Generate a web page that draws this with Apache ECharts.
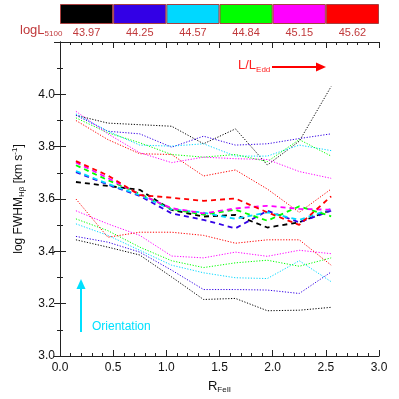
<!DOCTYPE html>
<html>
<head>
<meta charset="utf-8">
<script src="https://cdn.jsdelivr.net/npm/echarts@6/dist/echarts.min.js"></script>
<style>
  html, body { margin: 0; padding: 0; background: #fff; }
  #chart { width: 399px; height: 399px; }
</style>
</head>
<body>
<div id="chart"></div>
<script>
  // R_FeII bin centres
  var rfe = [0.15, 0.45, 0.75, 1.05, 1.35, 1.65, 1.95, 2.25, 2.55];

  // logL5100 bins (colour bar)
  var lumLabels = ['43.97', '44.25', '44.57', '44.84', '45.15', '45.62'];
  var lumColors = ['#000000', '#3300e6', '#00d8ff', '#00ff00', '#ff00ff', '#ff0000'];

  // upper dotted group
  var highBlack   = [3.920, 3.890, 3.884, 3.878, 3.811, 3.868, 3.730, 3.821, 4.030];
  var highBlue    = [3.920, 3.859, 3.849, 3.798, 3.840, 3.806, 3.811, 3.831, 3.849];
  var highCyan    = [3.925, 3.859, 3.806, 3.802, 3.811, 3.764, 3.764, 3.806, 3.785];
  var highGreen   = [3.910, 3.853, 3.815, 3.770, 3.760, 3.770, 3.743, 3.827, 3.764];
  var highMagenta = [3.935, 3.849, 3.777, 3.739, 3.760, 3.754, 3.751, 3.705, 3.679];
  var highRed     = [3.900, 3.827, 3.773, 3.770, 3.688, 3.711, 3.638, 3.549, 3.638];

  // middle dashed group
  var midBlack   = [3.665, 3.650, 3.635, 3.558, 3.533, 3.539, 3.491, 3.511, 3.558];
  var midBlue    = [3.703, 3.655, 3.612, 3.545, 3.520, 3.488, 3.555, 3.511, 3.555];
  var midCyan    = [3.707, 3.658, 3.615, 3.560, 3.548, 3.524, 3.549, 3.520, 3.562];
  var midGreen   = [3.729, 3.672, 3.620, 3.562, 3.540, 3.559, 3.517, 3.572, 3.534];
  var midMagenta = [3.740, 3.680, 3.618, 3.565, 3.545, 3.564, 3.574, 3.562, 3.559];
  var midRed     = [3.745, 3.690, 3.615, 3.605, 3.593, 3.602, 3.549, 3.501, 3.610];

  // lower dotted group
  var lowBlack   = [3.444, 3.416, 3.386, 3.302, 3.216, 3.220, 3.173, 3.175, 3.186];
  var lowBlue    = [3.457, 3.435, 3.397, 3.328, 3.254, 3.254, 3.252, 3.239, 3.321];
  var lowCyan    = [3.505, 3.461, 3.404, 3.347, 3.318, 3.299, 3.296, 3.364, 3.284];
  var lowGreen   = [3.524, 3.479, 3.416, 3.364, 3.338, 3.356, 3.366, 3.343, 3.375];
  var lowMagenta = [3.555, 3.505, 3.461, 3.382, 3.375, 3.397, 3.381, 3.404, 3.391];
  var lowRed     = [3.600, 3.454, 3.473, 3.473, 3.461, 3.431, 3.444, 3.444, 3.347];

  var highSets = [highBlack, highBlue, highCyan, highGreen, highMagenta, highRed];
  var midSets = [midBlack, midBlue, midCyan, midGreen, midMagenta, midRed];
  var lowSets = [lowBlack, lowBlue, lowCyan, lowGreen, lowMagenta, lowRed];

  var font = 'Liberation Sans';
  var labelRed = '#c0393b';

  function pairs(ys) {
    return rfe.map(function (x, i) { return [x, ys[i]]; });
  }

  function lineSeries(ys, color, dashed) {
    return {
      type: 'line',
      xAxisIndex: 0,
      yAxisIndex: 0,
      data: pairs(ys),
      showSymbol: false,
      silent: true,
      lineStyle: dashed
        ? { color: color, width: 1.8, type: [5, 4] }
        : { color: color, width: 1, type: [1.2, 1.6] }
    };
  }

  var series = [];
  for (var i = 0; i < 6; i++) {
    series.push(lineSeries(highSets[i], lumColors[i], false));
    series.push(lineSeries(lowSets[i], lumColors[i], false));
  }
  for (var j = 0; j < 6; j++) {
    series.push(lineSeries(midSets[j], lumColors[j], true));
  }
  // colour bar
  series.push({
    type: 'bar',
    xAxisIndex: 2,
    yAxisIndex: 2,
    barWidth: '100%',
    silent: true,
    data: lumColors.map(function (c) {
      return { value: 1, itemStyle: { color: c, borderColor: '#a84040', borderWidth: 1 } };
    })
  });

  var tickStyle = { inside: true, length: 6, lineStyle: { color: '#222' } };
  var minorStyle = { show: true, length: 3, lineStyle: { color: '#222' } };
  var lineAx = { show: true, lineStyle: { color: '#222', width: 1 } };

  var chart = echarts.init(document.getElementById('chart'));
  var option = {
    backgroundColor: '#fff',
    animation: false,
    textStyle: { fontFamily: font },
    grid: [
      { left: 60, right: 20, top: 42, bottom: 41 },
      { left: 60, right: 20, top: 4, height: 20 }
    ],
    xAxis: [
      {
        type: 'value', gridIndex: 0, min: 0, max: 3, interval: 0.5,
        axisLine: lineAx, axisTick: tickStyle,
        minorTick: Object.assign({ splitNumber: 5 }, minorStyle),
        splitLine: { show: false },
        axisLabel: { color: '#111', fontSize: 12, margin: 6, formatter: function (v) { return v.toFixed(1); } },
        name: '{a|R}{s|FeII}',
        nameLocation: 'middle',
        nameGap: 22,
        nameTextStyle: {
          rich: {
            a: { fontSize: 13, color: '#111', fontFamily: font },
            s: { fontSize: 8, color: '#111', fontFamily: font, padding: [8, 0, 0, 0] }
          }
        }
      },
      {
        type: 'value', gridIndex: 0, position: 'top', min: 0, max: 3, interval: 0.5,
        axisLine: lineAx, axisTick: tickStyle,
        minorTick: Object.assign({ splitNumber: 5 }, minorStyle),
        splitLine: { show: false }, axisLabel: { show: false }
      },
      {
        type: 'category', gridIndex: 1, data: lumLabels,
        axisLine: { show: false }, axisTick: { show: false },
        axisLabel: { color: labelRed, fontSize: 11, margin: 3 }
      }
    ],
    yAxis: [
      {
        type: 'value', gridIndex: 0, min: 3.0, max: 4.2, interval: 0.2,
        axisLine: lineAx, axisTick: tickStyle,
        minorTick: Object.assign({ splitNumber: 2 }, minorStyle),
        splitLine: { show: false },
        axisLabel: {
          color: '#111', fontSize: 12, margin: 5, showMaxLabel: false,
          formatter: function (v) { return v > 4.1 ? '' : v.toFixed(1); }
        },
        name: '{a|log FWHM}{s|Hβ}{a| [km s}{p|-1}{a|]}',
        nameLocation: 'middle',
        nameGap: 34,
        nameRotate: 90,
        nameTextStyle: {
          rich: {
            a: { fontSize: 12, color: '#111', fontFamily: font },
            s: { fontSize: 8, color: '#111', fontFamily: font, padding: [7, 0, 0, 0] },
            p: { fontSize: 8, color: '#111', fontFamily: font, padding: [0, 0, 7, 0] }
          }
        }
      },
      {
        type: 'value', gridIndex: 0, position: 'right', min: 3.0, max: 4.2, interval: 0.2,
        axisLine: lineAx, axisTick: tickStyle,
        minorTick: Object.assign({ splitNumber: 2 }, minorStyle),
        splitLine: { show: false }, axisLabel: { show: false }
      },
      {
        type: 'value', gridIndex: 1, min: 0, max: 1, show: false
      }
    ],
    series: series,
    graphic: [
      {
        type: 'text', left: 20, top: 24, silent: true,
        style: {
          text: '{a|logL}{s|5100}',
          rich: {
            a: { fontSize: 13, fill: labelRed, fontFamily: font },
            s: { fontSize: 8, fill: labelRed, fontFamily: font, padding: [7, 0, 0, 0] }
          }
        }
      },
      {
        type: 'text', left: 238, top: 59, silent: true,
        style: {
          text: '{a|L/L}{s|Edd}',
          rich: {
            a: { fontSize: 13, fill: '#ff2020', fontFamily: font },
            s: { fontSize: 8, fill: '#ff2020', fontFamily: font, padding: [8, 0, 0, 0] }
          }
        }
      },
      {
        type: 'line', silent: true,
        shape: { x1: 272, y1: 67, x2: 318, y2: 67 },
        style: { stroke: '#ff0000', lineWidth: 2 }
      },
      {
        type: 'polygon', silent: true,
        shape: { points: [[316, 62.5], [326, 67], [316, 71.5]] },
        style: { fill: '#ff0000' }
      },
      {
        type: 'line', silent: true,
        shape: { x1: 81, y1: 332, x2: 81, y2: 287 },
        style: { stroke: '#00e0ff', lineWidth: 2 }
      },
      {
        type: 'polygon', silent: true,
        shape: { points: [[76.5, 289], [81, 279], [85.5, 289]] },
        style: { fill: '#00e0ff' }
      },
      {
        type: 'text', left: 92, top: 321, silent: true,
        style: { text: 'Orientation', fontSize: 12, fill: '#00e0ff', fontFamily: font }
      }
    ]
  };
  chart.setOption(option);
</script>
</body>
</html>
